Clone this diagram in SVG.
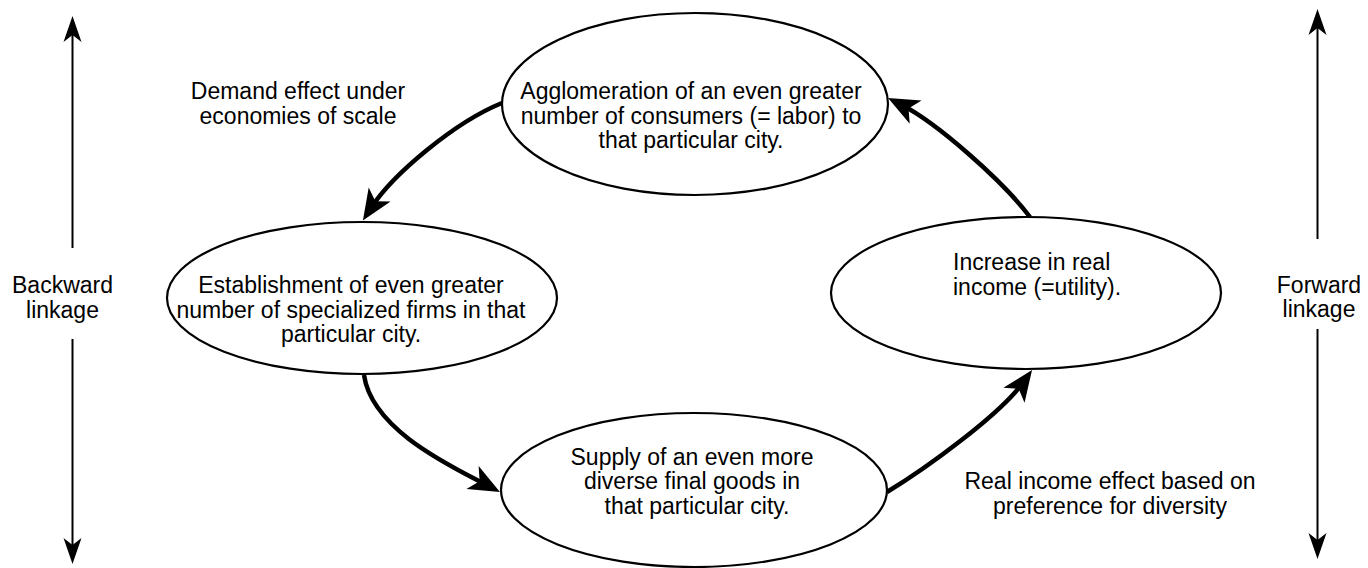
<svg xmlns="http://www.w3.org/2000/svg" width="1368" height="568" viewBox="0 0 1368 568">
<style>
text{font-family:"Liberation Sans",Arial,sans-serif;font-size:23px;fill:#000}
.c{text-anchor:middle}
.node{fill:#fff;stroke:#000;stroke-width:2.2}
.conn{fill:none;stroke:#000;stroke-width:4.5;marker-end:url(#ah)}
.link{fill:none;stroke:#000;stroke-width:2;marker-end:url(#ahs)}
</style>
<defs>
<marker id="ah" markerUnits="userSpaceOnUse" viewBox="-33 -15 35 30" markerWidth="35" markerHeight="30" refX="-15" refY="0" orient="auto">
<path d="M0,0 L-31,-13 L-23,0 L-31,13 Z" fill="#000"/>
</marker>
<marker id="ahs" markerUnits="userSpaceOnUse" viewBox="-28 -11 30 22" markerWidth="30" markerHeight="22" refX="-10" refY="0" orient="auto">
<path d="M0,0 L-26,-9 L-19,0 L-26,9 Z" fill="#000"/>
</marker>
</defs>
<rect width="1368" height="568" fill="#fff"/>

<g id="connectors">
<path class="conn" d="M502,103 C455,122 392.6,174.4 371,208"/>
<path class="conn" d="M364,375 C372,430 451.3,466.3 486.7,485"/>
<path class="conn" d="M887,492 C925.7,468.6 1000,414.7 1023.3,382.2"/>
<path class="conn" d="M1030,217 C1003,181 937,123 901.4,104.8"/>
<line class="link" x1="72.5" y1="248" x2="72.5" y2="26"/>
<line class="link" x1="72.5" y1="339" x2="72.5" y2="554"/>
<line class="link" x1="1317.5" y1="239" x2="1317.5" y2="19"/>
<line class="link" x1="1317.5" y1="329" x2="1317.5" y2="549"/>
</g>

<g id="node-agglomeration">
<ellipse class="node" cx="695" cy="104" rx="193" ry="91"/>
<text class="c" x="691" y="99">Agglomeration of an even greater</text>
<text class="c" x="691" y="124">number of consumers (= labor) to</text>
<text class="c" x="691" y="148">that particular city.</text>
</g>

<g id="node-establishment">
<ellipse class="node" cx="362" cy="298" rx="195" ry="76"/>
<text class="c" x="351" y="293">Establishment of even greater</text>
<text class="c" x="351" y="318">number of specialized firms in that</text>
<text class="c" x="351" y="342">particular city.</text>
</g>

<g id="node-supply">
<ellipse class="node" cx="694" cy="490" rx="193" ry="77"/>
<text class="c" x="692" y="465">Supply of an even more</text>
<text class="c" x="692" y="489">diverse final goods in</text>
<text class="c" x="697" y="514">that particular city.</text>
</g>

<g id="node-income">
<ellipse class="node" cx="1026" cy="293" rx="195" ry="76"/>
<text x="953" y="270">Increase in real</text>
<text x="953" y="295">income (=utility).</text>
</g>

<g id="label-demand">
<text class="c" x="298" y="99">Demand effect under</text>
<text class="c" x="298" y="124">economies of scale</text>
</g>

<g id="label-real-income">
<text class="c" x="1110" y="489">Real income effect based on</text>
<text class="c" x="1110" y="514">preference for diversity</text>
</g>

<g id="label-backward">
<text class="c" x="62.5" y="293">Backward</text>
<text class="c" x="62.5" y="318">linkage</text>
</g>

<g id="label-forward">
<text class="c" x="1319" y="293">Forward</text>
<text class="c" x="1319" y="317">linkage</text>
</g>
</svg>
